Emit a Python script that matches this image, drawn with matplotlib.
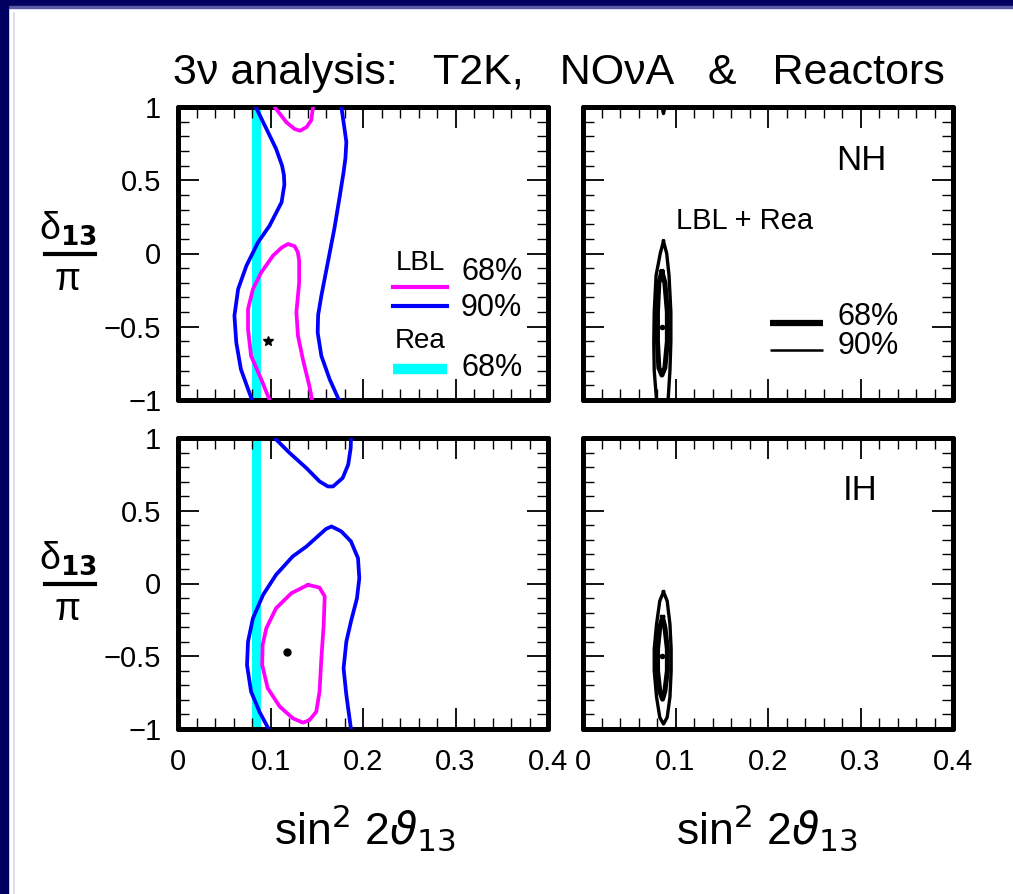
import matplotlib
matplotlib.use('Agg')
import matplotlib.pyplot as plt
from matplotlib.patches import Rectangle
from matplotlib.lines import Line2D
from matplotlib.ticker import MultipleLocator, FuncFormatter

# ---------------- data ----------------
title_text = "3\u03bd analysis:   T2K,   NO\u03bdA   &   Reactors"
x_ticks = [0, 0.1, 0.2, 0.3, 0.4]
y_ticks = [-1, -0.5, 0, 0.5, 1]

# Reactor 68% band in sin^2 2theta13
rea_lo, rea_hi = 0.08, 0.09

# NH, LBL only
nh_b90_left_x = [0.084, 0.0955, 0.106, 0.1125, 0.1145, 0.115, 0.112, 0.099, 0.0865, 0.074, 0.065, 0.061, 0.063, 0.068, 0.080]
nh_b90_left_y = [1.0, 0.852, 0.715, 0.600, 0.535, 0.470, 0.350, 0.190, 0.076, -0.083, -0.243, -0.425, -0.608, -0.790, -1.0]
nh_b90_right_x = [0.1766, 0.180, 0.182, 0.181, 0.179, 0.175, 0.169, 0.162, 0.155, 0.1515, 0.151, 0.155, 0.164, 0.174]
nh_b90_right_y = [1.0, 0.852, 0.761, 0.650, 0.555, 0.396, 0.168, -0.060, -0.288, -0.420, -0.540, -0.699, -0.859, -1.0]
nh_m68_top_x = [0.1045, 0.117, 0.126, 0.132, 0.139, 0.144, 0.146]
nh_m68_top_y = [1.0, 0.897, 0.850, 0.838, 0.863, 0.909, 1.0]
nh_m68_low_x = [0.099, 0.090, 0.079, 0.0757, 0.0757, 0.081, 0.090, 0.1027, 0.112, 0.119, 0.126, 0.1295, 0.131, 0.131, 0.128, 0.1297, 0.135, 0.142, 0.145]
nh_m68_low_y = [-1.0, -0.859, -0.699, -0.517, -0.380, -0.243, -0.129, -0.015, 0.040, 0.065, 0.050, 0.010, -0.050, -0.197, -0.402, -0.562, -0.722, -0.904, -1.0]
nh_best = (0.097, -0.596)

# IH, LBL only
ih_b90_up_x = [0.1045, 0.1207, 0.1387, 0.153, 0.162, 0.1676, 0.178, 0.184, 0.1867, 0.187]
ih_b90_up_y = [1.0, 0.897, 0.794, 0.702, 0.667, 0.667, 0.725, 0.817, 0.931, 1.0]
ih_b90_low_x = [0.098, 0.088, 0.079, 0.0746, 0.0757, 0.081, 0.092, 0.106, 0.124, 0.139, 0.153, 0.160, 0.166, 0.1766, 0.187, 0.1946, 0.196, 0.1935, 0.187, 0.182, 0.179, 0.182, 0.187]
ih_b90_low_y = [-1.0, -0.881, -0.743, -0.560, -0.399, -0.239, -0.078, 0.060, 0.186, 0.255, 0.335, 0.375, 0.392, 0.358, 0.289, 0.174, 0.037, -0.101, -0.261, -0.399, -0.583, -0.766, -1.0]
ih_m68_x = [0.1405, 0.153, 0.1586, 0.1575, 0.155, 0.153, 0.1495, 0.142, 0.135, 0.1243, 0.110, 0.097, 0.091, 0.0915, 0.0955, 0.106, 0.1225, 0.1405]
ih_m68_y = [-0.009, -0.028, -0.089, -0.284, -0.514, -0.743, -0.881, -0.940, -0.956, -0.927, -0.846, -0.720, -0.560, -0.420, -0.307, -0.170, -0.067, -0.009]
ih_best = (0.118, -0.468)

# NH, LBL + Rea
nhc_90_x = [0.087, 0.0905, 0.093, 0.095, 0.095, 0.094, 0.092, 0.0795, 0.077, 0.0765, 0.077, 0.079, 0.0835, 0.087]
nhc_90_y = [0.084, 0.0, -0.15, -0.4, -0.6, -0.8, -1.0, -1.0, -0.8, -0.6, -0.4, -0.15, 0.0, 0.084]
nhc_90_top_x = [0.0855, 0.087, 0.0885]
nhc_90_top_y = [1.0, 0.955, 1.0]
nhc_68_x = [0.0853, 0.0885, 0.0912, 0.0912, 0.0885, 0.0853, 0.082, 0.0805, 0.0805, 0.082, 0.0853]
nhc_68_y = [-0.125, -0.2, -0.4, -0.6, -0.78, -0.83, -0.78, -0.6, -0.4, -0.2, -0.125]
nhc_best = (0.0855, -0.5)

# IH, LBL + Rea
ihc_90_x = [0.087, 0.091, 0.094, 0.0953, 0.0953, 0.094, 0.091, 0.087, 0.083, 0.0795, 0.077, 0.077, 0.0795, 0.083, 0.087]
ihc_90_y = [-0.057, -0.12, -0.28, -0.45, -0.6, -0.78, -0.92, -0.966, -0.92, -0.78, -0.6, -0.45, -0.28, -0.12, -0.057]
ihc_68_x = [0.086, 0.0885, 0.0912, 0.0912, 0.0885, 0.086, 0.083, 0.0806, 0.0806, 0.083, 0.086]
ihc_68_y = [-0.234, -0.30, -0.45, -0.60, -0.74, -0.795, -0.74, -0.60, -0.45, -0.30, -0.234]
ihc_best = (0.0855, -0.5)

# ---------------- styling ----------------
W, H = 1013, 894
FONT = ['Liberation Sans Narrow', 'Liberation Sans', 'DejaVu Sans']
plt.rcParams['font.family'] = FONT
plt.rcParams['mathtext.fontset'] = 'dejavusans'

MAG = '#ff00ff'
BLU = '#0000ff'
CYA = '#00ffff'

fig = plt.figure(figsize=(W / 100, H / 100), dpi=100)
fig.patch.set_facecolor('white')

# navy frame of the slide
fig.patches.append(Rectangle((0, 1 - 6 / H), 1, 6 / H, transform=fig.transFigure, color='#000060', zorder=0))
fig.patches.append(Rectangle((0, 1 - 7.5 / H), 1, 1.5 / H, transform=fig.transFigure, color='#5a5aa8', zorder=0))
fig.patches.append(Rectangle((0, 0), 8 / W, 1, transform=fig.transFigure, color='#000060', zorder=0))
fig.lines.append(Line2D([14 / W, 14 / W], [0, 1 - 13 / H], transform=fig.transFigure, color='#d8d8e0', lw=1.2))


def px_axes(x0, x1, y0, y1):
    return fig.add_axes([x0 / W, 1 - y1 / H, (x1 - x0) / W, (y1 - y0) / H])


def fmt(v, pos):
    if abs(v) < 1e-9:
        return '0'
    s = ('%g' % v)
    return s.replace('-', '\u2212')


def setup(ax, xlabels, ylabels):
    ax.set_xlim(0, 0.4)
    ax.set_ylim(-1, 1)
    ax.set_xticks(x_ticks)
    ax.set_yticks(y_ticks)
    ax.xaxis.set_minor_locator(MultipleLocator(0.02))
    ax.yaxis.set_minor_locator(MultipleLocator(0.1))
    ax.tick_params(which='both', direction='in', top=True, right=True, colors='black')
    ax.tick_params(which='major', length=15, width=1.3, labelsize=21)
    ax.tick_params(which='minor', length=8, width=1.0)
    ax.tick_params(axis='x', which='major', pad=14)
    ax.tick_params(axis='y', which='major', pad=12)
    ax.xaxis.set_major_formatter(FuncFormatter(fmt))
    ax.yaxis.set_major_formatter(FuncFormatter(fmt))
    if not xlabels:
        ax.tick_params(axis='x', labelbottom=False)
    if not ylabels:
        ax.tick_params(axis='y', labelleft=False)
    for sp in ax.spines.values():
        sp.set_linewidth(3.6)
        sp.set_capstyle('round')


ax_tl = px_axes(178, 548, 107, 400)
ax_tr = px_axes(583, 953, 107, 400)
ax_bl = px_axes(178, 548, 438, 729)
ax_br = px_axes(583, 953, 438, 729)

setup(ax_tl, False, True)
setup(ax_tr, False, False)
setup(ax_bl, True, True)
setup(ax_br, True, False)

lw = 2.7
kw = dict(lw=lw, zorder=3, solid_joinstyle='round', solid_capstyle='round')
# --- top-left: NH LBL
ax = ax_tl
ax.axvspan(rea_lo, rea_hi, color=CYA, zorder=1, lw=0)
ax.plot(nh_b90_left_x, nh_b90_left_y, color=BLU, **kw)
ax.plot(nh_b90_right_x, nh_b90_right_y, color=BLU, **kw)
ax.plot(nh_m68_top_x, nh_m68_top_y, color=MAG, **kw)
ax.plot(nh_m68_low_x, nh_m68_low_y, color=MAG, **kw)
ax.plot([nh_best[0]], [nh_best[1]], marker='*', color='black', ms=7, zorder=4)
# legend
ax.text(0.654, 0.468, 'LBL', transform=ax.transAxes, ha='center', va='center', fontsize=20)
ax.add_line(Line2D([0.581, 0.727], [0.386, 0.386], transform=ax.transAxes, color=MAG, lw=3))
ax.add_line(Line2D([0.581, 0.727], [0.321, 0.321], transform=ax.transAxes, color=BLU, lw=3))
ax.text(0.765, 0.437, '68%', transform=ax.transAxes, ha='left', va='center', fontsize=22)
ax.text(0.765, 0.314, '90%', transform=ax.transAxes, ha='left', va='center', fontsize=22)
ax.text(0.654, 0.200, 'Rea', transform=ax.transAxes, ha='center', va='center', fontsize=20)
ax.add_line(Line2D([0.581, 0.727], [0.106, 0.106], transform=ax.transAxes, color=CYA, lw=7.5, solid_capstyle='butt'))
ax.text(0.765, 0.109, '68%', transform=ax.transAxes, ha='left', va='center', fontsize=22)

# --- bottom-left: IH LBL
ax = ax_bl
ax.axvspan(rea_lo, rea_hi, color=CYA, zorder=1, lw=0)
ax.plot(ih_b90_up_x, ih_b90_up_y, color=BLU, **kw)
ax.plot(ih_b90_low_x, ih_b90_low_y, color=BLU, **kw)
ax.plot(ih_m68_x, ih_m68_y, color=MAG, **kw)
ax.plot([ih_best[0]], [ih_best[1]], marker='o', color='black', ms=5, zorder=4)

# --- top-right: NH combined
ax = ax_tr
kb = dict(zorder=3, solid_joinstyle='round', color='black')
ax.plot(nhc_90_x, nhc_90_y, lw=2.4, **kb)
ax.plot(nhc_90_top_x, nhc_90_top_y, lw=2.4, **kb)
ax.plot(nhc_68_x, nhc_68_y, lw=3.6, **kb)
ax.plot([nhc_best[0]], [nhc_best[1]], marker='o', color='black', ms=3, zorder=4)
ax.text(0.751, 0.816, 'NH', transform=ax.transAxes, ha='center', va='center', fontsize=25)
ax.text(0.438, 0.611, 'LBL + Rea', transform=ax.transAxes, ha='center', va='center', fontsize=21)
ax.add_line(Line2D([0.505, 0.649], [0.263, 0.263], transform=ax.transAxes, color='black', lw=4.5, solid_capstyle='butt'))
ax.add_line(Line2D([0.505, 0.649], [0.171, 0.171], transform=ax.transAxes, color='black', lw=1.8, solid_capstyle='butt'))
ax.text(0.689, 0.283, '68%', transform=ax.transAxes, ha='left', va='center', fontsize=22)
ax.text(0.689, 0.184, '90%', transform=ax.transAxes, ha='left', va='center', fontsize=22)

# --- bottom-right: IH combined
ax = ax_br
ax.plot(ihc_90_x, ihc_90_y, lw=2.4, **kb)
ax.plot(ihc_68_x, ihc_68_y, lw=3.6, **kb)
ax.plot([ihc_best[0]], [ihc_best[1]], marker='o', color='black', ms=3, zorder=4)
ax.text(0.749, 0.821, 'IH', transform=ax.transAxes, ha='center', va='center', fontsize=25)

# title
fig.text(559 / W, 1 - 73 / H, title_text, ha='center', va='center', fontsize=31)

# y labels: delta_13 / pi
for ybar in (253.5, 584.0):
    fig.lines.append(Line2D([45 / W, 95 / W], [1 - ybar / H, 1 - ybar / H], transform=fig.transFigure, color='black', lw=3))
    fig.text(68 / W, 1 - (ybar - 7) / H, '\u03b4$_{\\mathbf{13}}$', ha='center', va='bottom', fontsize=27)
    fig.text(68 / W, 1 - (ybar + 8) / H, '\u03c0', ha='center', va='top', fontsize=27)

# x labels
for xc in (365, 767):
    fig.text(xc / W, 1 - 828 / H, 'sin$^{2}$ 2$\\vartheta_{13}$', ha='center', va='center', fontsize=32)

fig.savefig('out.png', dpi=100, facecolor='white')
